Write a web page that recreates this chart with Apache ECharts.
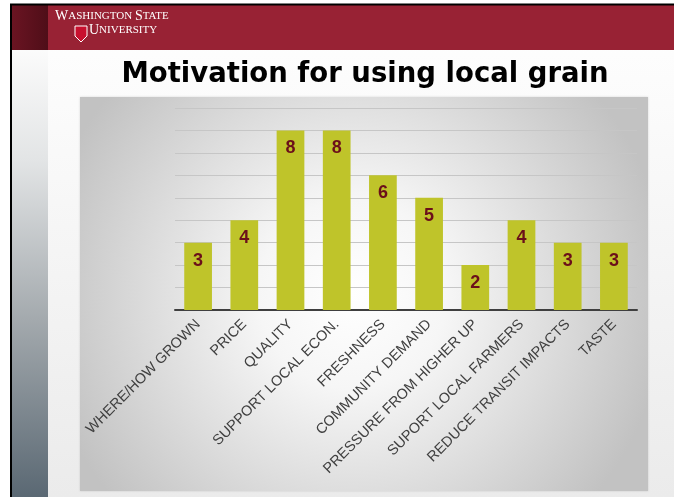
<!DOCTYPE html>
<html><head><meta charset="utf-8">
<script src="https://cdn.jsdelivr.net/npm/echarts@6/dist/echarts.min.js"></script>
<style>html,body{margin:0;padding:0;background:#fff}#c{width:674px;height:497px}</style>
</head><body><div id="c"></div>
<script>
const categories = ['WHERE/HOW GROWN','PRICE','QUALITY','SUPPORT LOCAL ECON.','FRESHNESS','COMMUNITY DEMAND','PRESSURE FROM HIGHER UP','SUPORT LOCAL FARMERS','REDUCE TRANSIT IMPACTS','TASTE'];
const counts = [3,4,8,8,6,5,2,4,3,3];
const yTicks = [0,1,2,3,4,5,6,7,8,9];

const chart = echarts.init(document.getElementById('c'), null, {renderer:'canvas'});
chart.setOption({
  animation:false,
  backgroundColor:'#ffffff',
  graphic:[
    {type:'rect',z:-10,shape:{x:12,y:5,width:662,height:492},style:{fill:{type:'linear',x:0,y:0,x2:0,y2:1,colorStops:[{offset:0,color:'#ffffff'},{offset:1,color:'#ebebeb'}]}}},
    {type:'rect',z:-9,shape:{x:12,y:50,width:36,height:447},style:{fill:{type:'linear',x:0,y:0,x2:0,y2:1,colorStops:[{offset:0,color:'#fbfbfb'},{offset:0.25,color:'#e2e4e5'},{offset:0.6,color:'#a4aaae'},{offset:1,color:'#5a6873'}]}}},
    {type:'rect',z:-8,shape:{x:12,y:5,width:662,height:45},style:{fill:'#982234'}},
    {type:'rect',z:-8,shape:{x:12,y:5,width:36,height:45},style:{fill:{type:'linear',x:0,y:0,x2:1,y2:0,colorStops:[{offset:0,color:'#6a1422'},{offset:1,color:'#4f0e18'}]}}},
    {type:'rect',z:-7,shape:{x:11,y:4.5,width:670,height:500},style:{fill:'none',stroke:'#000',lineWidth:2}},
    {type:'text',z:-6,left:55,top:9,style:{rich:{b:{fill:'#fff',font:'14px "Liberation Serif", serif'},s:{fill:'#fff',font:'11px "Liberation Serif", serif'}},text:'{b|W}{s|ASHINGTON }{b|S}{s|TATE}'}},
    {type:'text',z:-6,left:89,top:23,style:{rich:{b:{fill:'#fff',font:'14px "Liberation Serif", serif'},s:{fill:'#fff',font:'11px "Liberation Serif", serif'}},text:'{b|U}{s|NIVERSITY}'}},
    {type:'polygon',z:-6,shape:{points:[[75,26],[87,26],[87,36],[81,42],[75,36]]},style:{fill:'#c8102e',stroke:'#ffffff',lineWidth:1}},
    {type:'text',z:-6,x:365,y:75,style:{text:'Motivation for using local grain',fill:'#000',font:'bold 27.5px "DejaVu Sans", sans-serif',textAlign:'center',textVerticalAlign:'middle'}},
    {type:'rect',z:-5,shape:{x:80,y:97,width:568,height:394},style:{fill:{type:'radial',x:0.48,y:0.5,r:0.8,colorStops:[{offset:0,color:'#ffffff'},{offset:0.3,color:'#f6f6f6'},{offset:1,color:'#c2c2c2'}]},shadowColor:'rgba(0,0,0,0.15)',shadowBlur:2}}
  ],
  grid:{left:175,right:37,top:108,bottom:187,containLabel:false},
  xAxis:{type:'category',data:categories,
    axisLine:{lineStyle:{color:'#3f3f3f',width:2}},axisTick:{show:false},
    axisLabel:{rotate:45,interval:0,color:'#404040',fontFamily:'"Liberation Sans", Arial, sans-serif',fontSize:14.5,margin:12}},
  yAxis:{type:'value',min:yTicks[0],max:yTicks[yTicks.length-1],interval:1,
    axisLabel:{show:false},axisLine:{show:false},axisTick:{show:false},
    splitLine:{lineStyle:{color:'#c6c6c6',width:1}}},
  series:[{type:'bar',data:counts,barWidth:'60%',
    itemStyle:{color:'#bfc42a'},
    label:{show:true,position:'insideTop',distance:9,color:'#6b0f1a',fontWeight:'bold',fontSize:18,fontFamily:'"Liberation Sans", Arial, sans-serif'}}]
});
</script></body></html>
